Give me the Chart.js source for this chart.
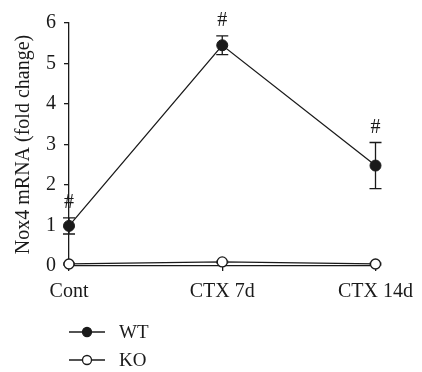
<!DOCTYPE html>
<html lang="en">
<head>
    <meta charset="UTF-8">
    <title>Nox4 mRNA</title>
    <script src="https://cdn.jsdelivr.net/npm/chart.js"></script>
    <style>
        body { margin: 0; background: #fff; }
        #wrap { width: 422px; height: 372px; }
    </style>
</head>
<body>
    <div id="wrap"><canvas id="myChart" width="422" height="372"></canvas></div>

    <script>
        // datos
        const categories = ['Cont', 'CTX 7d', 'CTX 14d'];
        const wtMean = [0.99, 5.45, 2.48];
        const wtErr = [0.2, 0.23, 0.57];
        const koMean = [0.05, 0.1, 0.05];
        const koErr = [0.02, 0.02, 0.02];
        const wtMarks = ['#', '#', '#'];
        const yTicks = [0, 1, 2, 3, 4, 5, 6];

        const FONT = '"Liberation Serif", "Times New Roman", serif';
        const INK = '#1a1a1a';

        // barras de error, "#" y leyenda
        const extras = {
            id: 'extras',
            beforeDatasetsDraw(chart) {
                const ctx = chart.ctx;
                const x = chart.scales.x, y = chart.scales.y;
                ctx.save();
                ctx.strokeStyle = INK;
                ctx.lineWidth = 1.3;
                [[wtMean, wtErr], [koMean, koErr]].forEach(([m, e]) => {
                    m.forEach((v, i) => {
                        const px = x.getPixelForValue(i);
                        const top = y.getPixelForValue(v + e[i]);
                        const bot = y.getPixelForValue(v - e[i]);
                        ctx.beginPath();
                        ctx.moveTo(px, top); ctx.lineTo(px, bot);
                        ctx.moveTo(px - 6, top); ctx.lineTo(px + 6, top);
                        ctx.moveTo(px - 6, bot); ctx.lineTo(px + 6, bot);
                        ctx.stroke();
                    });
                });
                ctx.restore();
            },
            afterDatasetsDraw(chart) {
                const ctx = chart.ctx;
                const x = chart.scales.x, y = chart.scales.y;
                ctx.save();
                ctx.fillStyle = INK;
                ctx.font = '20px ' + FONT;
                ctx.textAlign = 'center';
                ctx.textBaseline = 'bottom';
                wtMarks.forEach((s, i) => {
                    const px = x.getPixelForValue(i);
                    const top = y.getPixelForValue(wtMean[i] + wtErr[i]);
                    ctx.fillText(s, px, top - 5);
                });

                // leyenda
                const left = chart.chartArea.left;
                const rows = [
                    { label: 'WT', fill: INK, y: chart.chartArea.bottom + 66 },
                    { label: 'KO', fill: '#fff', y: chart.chartArea.bottom + 94 }
                ];
                ctx.font = '19px ' + FONT;
                ctx.textAlign = 'left';
                ctx.textBaseline = 'middle';
                rows.forEach(r => {
                    ctx.strokeStyle = INK;
                    ctx.lineWidth = 1.3;
                    ctx.beginPath();
                    ctx.moveTo(left, r.y); ctx.lineTo(left + 36, r.y);
                    ctx.stroke();
                    ctx.beginPath();
                    ctx.arc(left + 18, r.y, 4.5, 0, Math.PI * 2);
                    ctx.fillStyle = r.fill;
                    ctx.fill();
                    ctx.stroke();
                    ctx.fillStyle = INK;
                    ctx.fillText(r.label, left + 50, r.y + 1);
                });
                ctx.restore();
            }
        };

        const ctx = document.getElementById('myChart').getContext('2d');
        const myChart = new Chart(ctx, {
            type: 'line',
            data: {
                labels: categories,
                datasets: [
                    {
                        label: 'KO',
                        data: koMean,
                        borderColor: INK,
                        borderWidth: 1.3,
                        pointRadius: 5,
                        pointBackgroundColor: '#fff',
                        pointBorderColor: INK,
                        pointBorderWidth: 1.3,
                        tension: 0,
                        clip: false
                    },
                    {
                        label: 'WT',
                        data: wtMean,
                        borderColor: INK,
                        borderWidth: 1.3,
                        pointRadius: 5.5,
                        pointBackgroundColor: INK,
                        pointBorderColor: INK,
                        pointBorderWidth: 1,
                        tension: 0,
                        clip: false
                    }
                ]
            },
            options: {
                responsive: false,
                animation: false,
                layout: { padding: { top: 23, right: 45, bottom: 0, left: 0 } },
                plugins: {
                    legend: { display: false },
                    tooltip: { enabled: false }
                },
                scales: {
                    x: {
                        offset: false,
                        grid: { drawOnChartArea: false, drawTicks: true, tickLength: 5, color: INK, lineWidth: 1.3 },
                        border: { display: true, color: INK, width: 1.3 },
                        ticks: { color: INK, padding: 9, font: { family: FONT, size: 20 }, maxRotation: 0 },
                        afterFit(scale) { scale.height = 106; }
                    },
                    y: {
                        min: 0,
                        max: 6,
                        afterBuildTicks(scale) { scale.ticks = yTicks.map(v => ({ value: v })); },
                        grid: { drawOnChartArea: false, drawTicks: true, tickLength: 5, color: INK, lineWidth: 1.3 },
                        border: { display: true, color: INK, width: 1.3 },
                        ticks: { color: INK, padding: 8, font: { family: FONT, size: 20 } },
                        title: {
                            display: true,
                            text: 'Nox4 mRNA (fold change)',
                            color: INK,
                            font: { family: FONT, size: 20 },
                            padding: { top: 12, bottom: 0 }
                        },
                        afterFit(scale) { scale.width = 69; }
                    }
                }
            },
            plugins: [extras]
        });
    </script>
</body>
</html>
